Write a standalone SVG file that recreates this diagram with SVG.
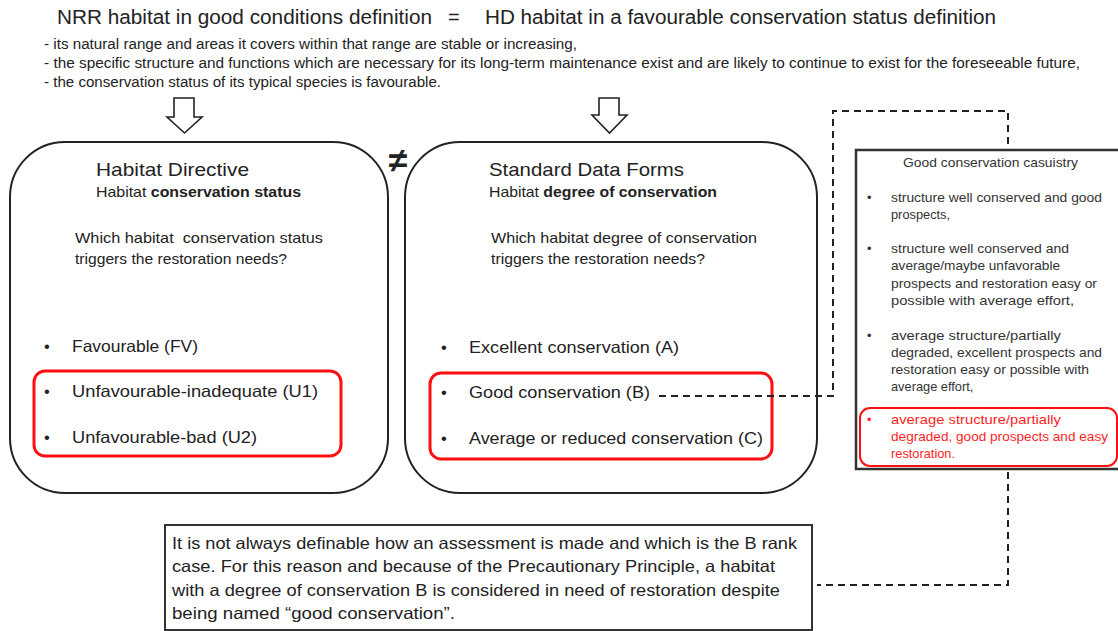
<svg xmlns="http://www.w3.org/2000/svg" width="1118" height="631" viewBox="0 0 1118 631">
<style>
text{font-family:"Liberation Sans",Arial,sans-serif;fill:#222}
.title{font-size:20px}
.desc{font-size:14px}
.h1{font-size:19px}
.h2{font-size:14.5px}
.q{font-size:15px}
.li{font-size:16.5px}
.cs{font-size:12.8px;fill:#333}
.red{fill:#ff1f1f}
.bt{font-size:16.5px}
.b{font-weight:bold}
.box{fill:#fff;stroke:#222;stroke-width:2}
.rbox{fill:none;stroke:#ff1010;stroke-width:3}
.dash{fill:none;stroke:#222;stroke-width:2;stroke-dasharray:7,5}
.arrow{fill:#fff;stroke:#222;stroke-width:1.6}
</style>
<g id="header">
<text class="title" x="57" y="24" textLength="375" lengthAdjust="spacingAndGlyphs">NRR habitat in good conditions definition</text>
<text class="title" x="448" y="24">=</text>
<text class="title" x="485" y="24" textLength="511" lengthAdjust="spacingAndGlyphs">HD habitat in a favourable conservation status definition</text>
<text class="desc" x="44" y="49" textLength="533" lengthAdjust="spacingAndGlyphs">- its natural range and areas it covers within that range are stable or increasing,</text>
<text class="desc" x="44" y="68" textLength="1036" lengthAdjust="spacingAndGlyphs">- the specific structure and functions which are necessary for its long-term maintenance exist and are likely to continue to exist for the foreseeable future,</text>
<text class="desc" x="44" y="87" textLength="397" lengthAdjust="spacingAndGlyphs">- the conservation status of its typical species is favourable.</text>
</g>
<g id="arrow-left">
<path class="arrow" d="M174,98 H194 V117 H202 L184.5,133 L167,117 H174 Z"/>
</g>
<g id="arrow-right">
<path class="arrow" d="M599,98 H619 V115 H627 L609.5,133 L592,115 H599 Z"/>
</g>
<g id="not-equal">
<text x="398" y="172" font-size="34" font-weight="bold" text-anchor="middle" fill="#111">≠</text>
</g>
<g id="habitat-directive">
<rect class="box" x="10" y="142" width="378" height="351" rx="55" ry="55"/>
<text class="h1" x="96" y="176" textLength="153" lengthAdjust="spacingAndGlyphs">Habitat Directive</text>
<text class="h2" x="96" y="197" textLength="205" lengthAdjust="spacingAndGlyphs">Habitat <tspan class="b">conservation status</tspan></text>
<text class="q" x="75" y="243" xml:space="preserve" textLength="248" lengthAdjust="spacingAndGlyphs">Which habitat  conservation status</text>
<text class="q" x="75" y="264" textLength="212" lengthAdjust="spacingAndGlyphs">triggers the restoration needs?</text>
<text class="li" x="44" y="352">•</text>
<text class="li" x="72" y="352" textLength="126" lengthAdjust="spacingAndGlyphs">Favourable (FV)</text>
<text class="li" x="44" y="397">•</text>
<text class="li" x="72" y="397" textLength="246" lengthAdjust="spacingAndGlyphs">Unfavourable-inadequate (U1)</text>
<text class="li" x="44" y="443">•</text>
<text class="li" x="72" y="443" textLength="185" lengthAdjust="spacingAndGlyphs">Unfavourable-bad (U2)</text>
<rect class="rbox" x="34" y="371" width="307" height="85" rx="11"/>
</g>
<g id="standard-data-forms">
<rect class="box" x="405" y="142" width="412" height="351" rx="55" ry="55"/>
<text class="h1" x="489" y="176" textLength="195" lengthAdjust="spacingAndGlyphs">Standard Data Forms</text>
<text class="h2" x="489" y="197" textLength="228" lengthAdjust="spacingAndGlyphs">Habitat <tspan class="b">degree of conservation</tspan></text>
<text class="q" x="491" y="243" textLength="266" lengthAdjust="spacingAndGlyphs">Which habitat degree of conservation</text>
<text class="q" x="491" y="264" textLength="214" lengthAdjust="spacingAndGlyphs">triggers the restoration needs?</text>
<text class="li" x="441" y="353">•</text>
<text class="li" x="469" y="353" textLength="210" lengthAdjust="spacingAndGlyphs">Excellent conservation (A)</text>
<text class="li" x="441" y="398">•</text>
<text class="li" x="469" y="398" textLength="181" lengthAdjust="spacingAndGlyphs">Good conservation (B)</text>
<text class="li" x="441" y="444">•</text>
<text class="li" x="469" y="444" textLength="294" lengthAdjust="spacingAndGlyphs">Average or reduced conservation (C)</text>
<rect class="rbox" x="430" y="373" width="342" height="86" rx="11"/>
</g>
<g id="casuistry">
<rect x="856" y="150" width="264" height="319" fill="#fff" stroke="#333" stroke-width="2.5"/>
<text class="cs" x="903" y="167" textLength="175" lengthAdjust="spacingAndGlyphs">Good conservation casuistry</text>
<text class="cs" x="867" y="202">•</text>
<text class="cs" x="891" y="202" textLength="211" lengthAdjust="spacingAndGlyphs">structure well conserved and good</text>
<text class="cs" x="891" y="219">prospects,</text>
<text class="cs" x="867" y="253">•</text>
<text class="cs" x="891" y="253" textLength="178" lengthAdjust="spacingAndGlyphs">structure well conserved and</text>
<text class="cs" x="891" y="270" textLength="169" lengthAdjust="spacingAndGlyphs">average/maybe unfavorable</text>
<text class="cs" x="891" y="288" textLength="206" lengthAdjust="spacingAndGlyphs">prospects and restoration easy or</text>
<text class="cs" x="891" y="305" textLength="183" lengthAdjust="spacingAndGlyphs">possible with average effort,</text>
<text class="cs" x="867" y="340">•</text>
<text class="cs" x="891" y="340" textLength="170" lengthAdjust="spacingAndGlyphs">average structure/partially</text>
<text class="cs" x="891" y="357" textLength="211" lengthAdjust="spacingAndGlyphs">degraded, excellent prospects and</text>
<text class="cs" x="891" y="374" textLength="198" lengthAdjust="spacingAndGlyphs">restoration easy or possible with</text>
<text class="cs" x="891" y="391">average effort,</text>
<rect x="860" y="408" width="257" height="58" rx="10" fill="none" stroke="#ff1010" stroke-width="2"/>
<text class="cs red" x="867" y="424">•</text>
<text class="cs red" x="891" y="424" textLength="170" lengthAdjust="spacingAndGlyphs">average structure/partially</text>
<text class="cs red" x="891" y="441" textLength="217" lengthAdjust="spacingAndGlyphs">degraded, good prospects and easy</text>
<text class="cs red" x="891" y="458">restoration.</text>
</g>
<g id="note">
<rect x="165" y="525" width="647" height="105" fill="#fff" stroke="#333" stroke-width="2"/>
<text class="bt" x="172" y="549" textLength="625" lengthAdjust="spacingAndGlyphs">It is not always definable how an assessment is made and which is the B rank</text>
<text class="bt" x="172" y="572" textLength="603" lengthAdjust="spacingAndGlyphs">case. For this reason and because of the Precautionary Principle, a habitat</text>
<text class="bt" x="172" y="596" textLength="608" lengthAdjust="spacingAndGlyphs">with a degree of conservation B is considered in need of restoration despite</text>
<text class="bt" x="172" y="619" textLength="283" lengthAdjust="spacingAndGlyphs">being named “good conservation”.</text>
</g>
<g id="connectors">
<polyline class="dash" points="659,396 833,396 833,111 1008,111 1008,150"/>
<polyline class="dash" points="1008,472 1008,585 817,585"/>
</g>
</svg>
